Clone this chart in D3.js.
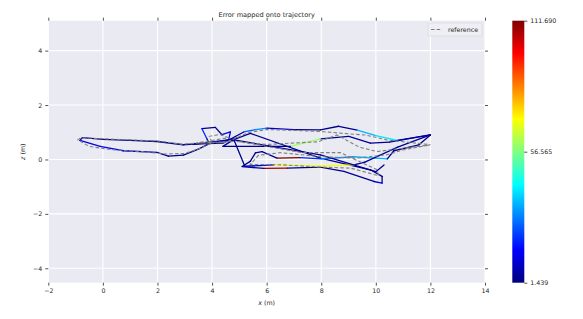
<!DOCTYPE html>
<html><head><meta charset="utf-8">
<script src="https://cdn.jsdelivr.net/npm/d3@7"></script>
<style>body{margin:0;background:#fff;} svg{display:block;font-family:"DejaVu Sans",sans-serif;}</style>
</head><body><svg id="c" width="583" height="319"></svg>
<script>
// ---- data ----
const trajX = [4.90,4.20,3.81,2.94,1.98,1.00,0.00,-0.75,-0.84,-0.10,0.75,1.98,2.40,2.95,3.50,3.90,3.81,3.63,4.12,4.36,4.67,4.61,3.30,4.40,5.16,5.60,6.01,7.00,7.97,8.64,9.32,10.00,10.78,12.00,10.50,9.80,9.01,7.97,6.87,6.00,4.40,4.77,5.40,7.97,9.80,10.23,10.23,9.93,8.83,7.97,6.75,5.90,5.10,5.40,5.59,5.83,6.38,7.24,8.00,9.19,10.42,10.66,11.58,12.00,10.80,9.60,9.20,7.97,6.25,5.20,4.80,7.97,10.00,10.30];
const trajZ = [0.78,0.64,0.60,0.54,0.66,0.70,0.74,0.80,0.70,0.48,0.32,0.26,0.12,0.16,0.38,0.58,0.76,1.13,1.18,0.91,1.01,0.72,0.56,0.60,1.01,1.10,1.15,1.10,1.09,1.22,1.08,0.88,0.70,0.90,0.64,0.60,0.85,0.76,0.48,0.48,0.48,0.72,0.96,0.05,-0.38,-0.62,-0.87,-0.81,-0.44,-0.28,-0.32,-0.33,-0.26,-0.07,0.24,0.29,0.05,0.07,0.02,0.10,0.02,0.32,0.54,0.90,0.45,-0.10,-0.20,-0.24,-0.20,-0.25,0.72,0.17,-0.45,-0.20];
const trajErr = [4,3,2,2,1.439,2,2,5,12,16,8,3,2,2,3,4,20,4,3,14,10,4,3,4,25,30,10,3,3,4,35,40,12,4,3,4,3,60,5,3,4,3,3,3,3,4,12,3,3,3,108,4,3,3,4,4,111.69,20,30,35,4,3,3,4,5,5,70,68,8,3,3,4,4,3];
const refX = [4.80,3.80,2.90,2.00,0.00,-0.80,-0.92,-0.50,0.30,1.50,2.30,3.00,3.60,4.00,3.90,4.30,4.60,3.40,4.50,5.30,6.00,7.20,8.10,8.90,9.60,10.40,12.00,10.05,9.40,8.58,7.90,6.90,6.00,4.90,5.60,7.30,8.70,10.05,10.10,9.08,8.00,6.60,5.40,5.70,6.50,8.00,9.30,10.40,11.00,12.00];
const refZ = [0.66,0.62,0.56,0.68,0.76,0.80,0.72,0.48,0.36,0.28,0.20,0.22,0.42,0.62,0.85,0.92,0.80,0.60,0.62,0.98,1.10,1.06,1.02,0.95,0.90,0.72,0.54,0.29,0.45,0.90,0.65,0.60,0.55,0.66,0.55,0.25,0.25,-0.38,-0.60,-0.32,-0.28,-0.20,-0.18,0.15,0.25,0.10,0.05,0.17,0.35,0.54];
const xTicks = [-2,0,2,4,6,8,10,12,14];
const yTicks = [-4,-2,0,2,4];
const cbTicks = [1.439,56.565,111.690];
const cbTickLabels = ["1.439","56.565","111.690"];
const titleText = "Error mapped onto trajectory";
const legendLabel = "reference";

// ---- layout ----
const svg = d3.select("#c");
const P = {l:48.3, r:485, t:20.7, b:282.7};
const x = d3.scaleLinear().domain([-2,14]).range([P.l,P.r]);
const y = d3.scaleLinear().domain([-4.53,5.10]).range([P.b,P.t]);
const txt = "#262626";
const fs = 6.3;

function jet(t){
  const c = v => Math.max(0,Math.min(1,v));
  return d3.rgb(255*c(1.5-Math.abs(4*t-3)),255*c(1.5-Math.abs(4*t-2)),255*c(1.5-Math.abs(4*t-1))).toString();
}
const ext = d3.extent(trajErr);
const cnorm = d3.scaleLinear().domain(ext).range([0,1]).clamp(true);

// background
svg.append("rect").attr("x",P.l).attr("y",P.t).attr("width",P.r-P.l).attr("height",P.b-P.t).attr("fill","#EAEAF2");
svg.append("clipPath").attr("id","pc").append("rect").attr("x",P.l).attr("y",P.t).attr("width",P.r-P.l).attr("height",P.b-P.t);
// grid
svg.append("g").selectAll("line").data(xTicks).join("line")
  .attr("x1",d=>x(d)).attr("x2",d=>x(d)).attr("y1",P.t).attr("y2",P.b)
  .attr("stroke","#fff").attr("stroke-width",1.1);
svg.append("g").selectAll("line").data(yTicks).join("line")
  .attr("y1",d=>y(d)).attr("y2",d=>y(d)).attr("x1",P.l).attr("x2",P.r)
  .attr("stroke","#fff").attr("stroke-width",1.1);

// axes via d3
const tickFmt = d => d<0 ? "\u2212"+Math.abs(d) : String(d);
function styleAxis(g){
  g.select(".domain").remove();
  g.selectAll(".tick line").attr("stroke",txt).attr("stroke-width",0.8);
  g.selectAll(".tick text").attr("fill",txt).attr("font-size",fs).attr("font-family","DejaVu Sans");
}
svg.append("g").attr("transform",`translate(0,${P.b})`)
  .call(d3.axisBottom(x).tickValues(xTicks).tickFormat(tickFmt).tickSize(3).tickPadding(3)).call(styleAxis);
svg.append("g").attr("transform",`translate(0,${P.t})`)
  .call(d3.axisTop(x).tickValues(xTicks).tickFormat("").tickSize(3)).call(styleAxis);
svg.append("g").attr("transform",`translate(${P.l},0)`)
  .call(d3.axisLeft(y).tickValues(yTicks).tickFormat(tickFmt).tickSize(3).tickPadding(3)).call(styleAxis);
svg.append("g").attr("transform",`translate(${P.r},0)`)
  .call(d3.axisRight(y).tickValues(yTicks).tickFormat("").tickSize(3)).call(styleAxis);

// trajectory segments
const pts = trajX.map((v,i)=>({x:v,z:trajZ[i],e:trajErr[i]}));
const segs = d3.pairs(pts);
const gT = svg.append("g").attr("clip-path","url(#pc)");
gT.selectAll("line").data(segs).join("line")
  .attr("x1",d=>x(d[0].x)).attr("y1",d=>y(d[0].z))
  .attr("x2",d=>x(d[1].x)).attr("y2",d=>y(d[1].z))
  .attr("stroke",d=>jet(cnorm(d[0].e)))
  .attr("stroke-width",1.3).attr("stroke-linecap","round");

// reference
const refPts = refX.map((v,i)=>[v,refZ[i]]);
gT.append("path").datum(refPts)
  .attr("d",d3.line().x(d=>x(d[0])).y(d=>y(d[1])))
  .attr("fill","none").attr("stroke","#7f7f7f").attr("stroke-width",1.1).attr("stroke-dasharray","3.5,2.2");

// legend
const lg = svg.append("g");
lg.append("rect").attr("x",428).attr("y",23).attr("width",54).attr("height",13).attr("rx",1.5)
  .attr("fill","#eeeef4").attr("stroke","#d6d6d6").attr("stroke-width",0.6);
lg.append("line").attr("x1",431).attr("x2",441).attr("y1",29.5).attr("y2",29.5)
  .attr("stroke","#7f7f7f").attr("stroke-width",1.1).attr("stroke-dasharray","3.5,2.2");
lg.append("text").attr("x",448).attr("y",31.8).attr("font-size",fs).attr("fill",txt).text(legendLabel);

// title and labels
svg.append("text").attr("x",(P.l+P.r)/2).attr("y",16.5).attr("text-anchor","middle")
  .attr("font-size",6.6).attr("fill",txt).text(titleText);
const xl = svg.append("text").attr("x",(P.l+P.r)/2).attr("y",304.5).attr("text-anchor","middle").attr("font-size",fs).attr("fill",txt);
xl.append("tspan").attr("font-style","italic").text("x");
xl.append("tspan").text(" (m)");
const yl = svg.append("text").attr("transform",`translate(24.5,${(P.t+P.b)/2}) rotate(-90)`).attr("text-anchor","middle").attr("font-size",fs).attr("fill",txt);
yl.append("tspan").attr("font-style","italic").text("z");
yl.append("tspan").text(" (m)");

// colorbar
const cb = {x:512.3, w:12, t:20.7, b:282.7};
const cy = d3.scaleLinear().domain(ext).range([cb.b,cb.t]);
const grad = svg.append("defs").append("linearGradient").attr("id","jet").attr("x1",0).attr("y1",1).attr("x2",0).attr("y2",0);
d3.range(0,1.0001,1/64).forEach(t=>grad.append("stop").attr("offset",t).attr("stop-color",jet(t)));
svg.append("rect").attr("x",cb.x).attr("y",cb.t).attr("width",cb.w).attr("height",cb.b-cb.t).attr("fill","url(#jet)");
svg.append("g").attr("transform",`translate(${cb.x+cb.w},0)`)
  .call(d3.axisRight(cy).tickValues(cbTicks).tickFormat((d,i)=>cbTickLabels[i]).tickSize(3).tickPadding(3)).call(styleAxis);
</script></body></html>
